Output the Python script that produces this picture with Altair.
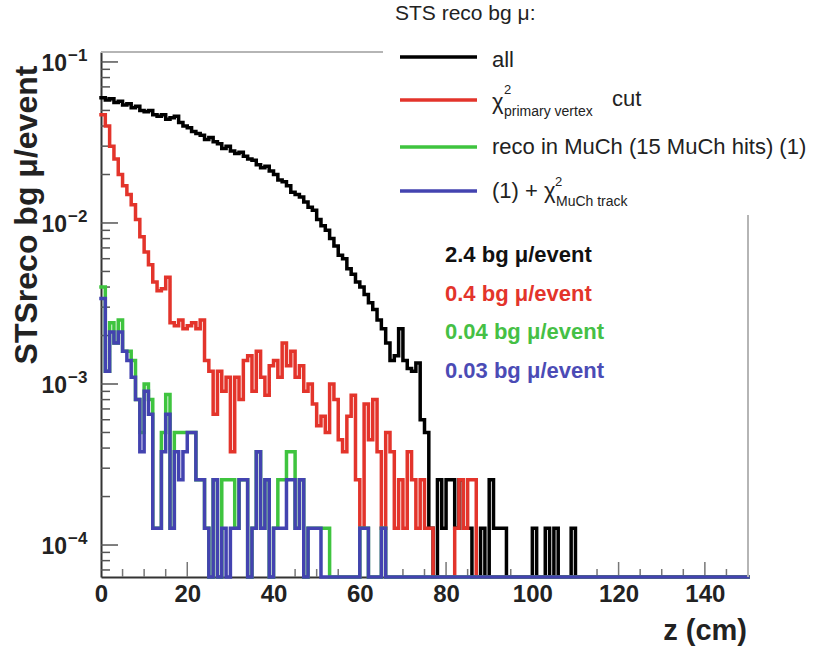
import altair as alt
import pandas as pd

# ---------------- data (bin contents, 1 cm bins from z = 0 to 150 cm) ----------------
Z_EDGES = list(range(0, 151))

all_mu = [
    0.060, 0.058, 0.059, 0.056, 0.057, 0.054, 0.055, 0.052, 0.053, 0.050,
    0.049, 0.050, 0.047, 0.046, 0.047, 0.044, 0.045, 0.046, 0.042, 0.040,
    0.039, 0.037, 0.036, 0.035, 0.033, 0.034, 0.032, 0.031, 0.029, 0.030,
    0.028, 0.027, 0.0275, 0.026, 0.025, 0.0245, 0.023, 0.022, 0.0225, 0.021,
    0.020, 0.0185, 0.018, 0.017, 0.0155, 0.015, 0.0145, 0.0135, 0.0125, 0.012,
    0.0105, 0.0096, 0.0090, 0.0080, 0.0072, 0.0063, 0.0060, 0.0052, 0.0048, 0.0043,
    0.0040, 0.0036, 0.0032, 0.0029, 0.0025, 0.0022, 0.0018, 0.0014, 0.0015, 0.0022,
    0.0014, 0.00125, 0.0012, 0.00135, 0.0006, 0.0005, 0.000127, 0.0, 0.000254, 0.000127,
    0.000254, 0.000254, 0.000127, 0.000254, 0.000127, 0.000127, 0.0, 0.0, 0.000127, 0.0,
    0.000254, 0.000127, 0.000127, 0.000127, 0.0, 0.0, 0.0, 0.0, 0.0, 0.0,
    0.000127, 0.0, 0.0, 0.000127, 0.0, 0.000127, 0.0, 0.0, 0.0, 0.000127,
    0.0, 0.0, 0.0, 0.0, 0.0, 0.0, 0.0, 0.0, 0.0, 0.0,
    0.0, 0.0, 0.0, 0.0, 0.0, 0.0, 0.0, 0.0, 0.0, 0.0,
    0.0, 0.0, 0.0, 0.0, 0.0, 0.0, 0.0, 0.0, 0.0, 0.0,
    0.0, 0.0, 0.0, 0.0, 0.0, 0.0, 0.0, 0.0, 0.0, 0.0,
]

chi2_pv = [
    0.047, 0.040, 0.030, 0.025, 0.020, 0.017, 0.015, 0.013, 0.0105, 0.0082,
    0.0066, 0.0055, 0.0043, 0.0038, 0.0039, 0.0046, 0.0024, 0.0023, 0.0025, 0.0022,
    0.0023, 0.0024, 0.0022, 0.0025, 0.0014, 0.0012, 0.00065, 0.0012, 0.0009, 0.0011,
    0.00038, 0.0011, 0.0008, 0.0014, 0.0015, 0.0009, 0.0016, 0.0011, 0.00085, 0.0013,
    0.0014, 0.0011, 0.0018, 0.0013, 0.0016, 0.0011, 0.0013, 0.0009, 0.0010, 0.00075,
    0.00055, 0.00063, 0.0005, 0.0010, 0.0008, 0.00045, 0.00038, 0.00063, 0.00085, 0.000254,
    0.000127, 0.00075, 0.00045, 0.0008, 0.00038, 0.000127, 0.0005, 0.00038, 0.000127, 0.000254,
    0.000127, 0.00038, 0.000254, 0.000127, 0.000254, 0.000127, 0.000127, 0.0, 0.0, 0.0,
    0.0, 0.0, 0.000127, 0.000254, 0.000127, 0.000254, 0.000254, 0.0, 0.0, 0.0,
    0.0, 0.0, 0.0, 0.0, 0.0, 0.0, 0.0, 0.0, 0.0, 0.0,
    0.0, 0.0, 0.0, 0.0, 0.0, 0.0, 0.0, 0.0, 0.0, 0.0,
    0.0, 0.0, 0.0, 0.0, 0.0, 0.0, 0.0, 0.0, 0.0, 0.0,
    0.0, 0.0, 0.0, 0.0, 0.0, 0.0, 0.0, 0.0, 0.0, 0.0,
    0.0, 0.0, 0.0, 0.0, 0.0, 0.0, 0.0, 0.0, 0.0, 0.0,
    0.0, 0.0, 0.0, 0.0, 0.0, 0.0, 0.0, 0.0, 0.0, 0.0,
]

much_reco = [
    0.0040, 0.0012, 0.0024, 0.0018, 0.0025, 0.0016, 0.0016, 0.0014, 0.0008, 0.0005,
    0.0010, 0.0008, 0.000127, 0.000127, 0.0005, 0.00086, 0.000127, 0.0005, 0.0005, 0.0005,
    0.0005, 0.0005, 0.000254, 0.000254, 0.000127, 0.0, 0.000254, 0.0, 0.000254, 0.000254,
    0.000254, 0.000127, 0.000254, 0.000254, 0.0, 0.000127, 0.00038, 0.000127, 0.000254, 0.0,
    0.000127, 0.000254, 0.000254, 0.00038, 0.00038, 0.000127, 0.000254, 0.0, 0.000127, 0.000127,
    0.000127, 0.000127, 0.000127, 0.0, 0.0, 0.0, 0.0, 0.0, 0.0, 0.0,
    0.000127, 0.000127, 0.0, 0.0, 0.0, 0.000127, 0.0, 0.0, 0.0, 0.0,
    0.0, 0.0, 0.0, 0.0, 0.0, 0.0, 0.0, 0.0, 0.0, 0.0,
    0.0, 0.0, 0.0, 0.0, 0.0, 0.0, 0.0, 0.0, 0.0, 0.0,
    0.0, 0.0, 0.0, 0.0, 0.0, 0.0, 0.0, 0.0, 0.0, 0.0,
    0.0, 0.0, 0.0, 0.0, 0.0, 0.0, 0.0, 0.0, 0.0, 0.0,
    0.0, 0.0, 0.0, 0.0, 0.0, 0.0, 0.0, 0.0, 0.0, 0.0,
    0.0, 0.0, 0.0, 0.0, 0.0, 0.0, 0.0, 0.0, 0.0, 0.0,
    0.0, 0.0, 0.0, 0.0, 0.0, 0.0, 0.0, 0.0, 0.0, 0.0,
    0.0, 0.0, 0.0, 0.0, 0.0, 0.0, 0.0, 0.0, 0.0, 0.0,
]

much_chi2 = [
    0.0034, 0.0012, 0.0021, 0.0018, 0.0021, 0.0016, 0.0014, 0.0011, 0.0008, 0.00038,
    0.0009, 0.00065, 0.000127, 0.000127, 0.00038, 0.00065, 0.000127, 0.00038, 0.000254, 0.00038,
    0.0005, 0.0005, 0.000254, 0.000254, 0.000127, 0.0, 0.000254, 0.0, 0.000127, 0.0,
    0.000127, 0.000127, 0.000254, 0.000254, 0.0, 0.000127, 0.00038, 0.000127, 0.000254, 0.0,
    0.000127, 0.000127, 0.000127, 0.000254, 0.000254, 0.000127, 0.000254, 0.0, 0.000127, 0.000127,
    0.000127, 0.0, 0.0, 0.0, 0.0, 0.0, 0.0, 0.0, 0.0, 0.0,
    0.000127, 0.000127, 0.0, 0.0, 0.0, 0.000127, 0.0, 0.0, 0.0, 0.0,
    0.0, 0.0, 0.0, 0.0, 0.0, 0.0, 0.0, 0.0, 0.0, 0.0,
    0.0, 0.0, 0.0, 0.0, 0.0, 0.0, 0.0, 0.0, 0.0, 0.0,
    0.0, 0.0, 0.0, 0.0, 0.0, 0.0, 0.0, 0.0, 0.0, 0.0,
    0.0, 0.0, 0.0, 0.0, 0.0, 0.0, 0.0, 0.0, 0.0, 0.0,
    0.0, 0.0, 0.0, 0.0, 0.0, 0.0, 0.0, 0.0, 0.0, 0.0,
    0.0, 0.0, 0.0, 0.0, 0.0, 0.0, 0.0, 0.0, 0.0, 0.0,
    0.0, 0.0, 0.0, 0.0, 0.0, 0.0, 0.0, 0.0, 0.0, 0.0,
    0.0, 0.0, 0.0, 0.0, 0.0, 0.0, 0.0, 0.0, 0.0, 0.0,
]

SERIES_COLORS = ["#000000", "#e3342b", "#3fc43f", "#4343b0"]
TEXT_COLORS = ["#111111", "#e3342b", "#45c045", "#4b4bb5"]
RATES = ["2.4 bg \u03bc/event", "0.4 bg \u03bc/event", "0.04 bg \u03bc/event", "0.03 bg \u03bc/event"]

X_LABELS = [0, 20, 40, 60, 80, 100, 120, 140]
Y_DECADES = [1e-1, 1e-2, 1e-3, 1e-4]
Y_EXPONENTS = ["\u22121", "\u22122", "\u22123", "\u22124"]

# ---------------- layout ----------------
W, H = 647, 525
Y_MIN, Y_MAX = 6.33e-5, 0.1153
FONT = "Liberation Sans"

xscale = alt.Scale(domain=[0, 150], nice=False, zero=False)
yscale = alt.Scale(type="log", domain=[Y_MIN, Y_MAX], nice=False)

xaxis = alt.Axis(values=X_LABELS, ticks=False, grid=False, domain=True, domainColor="#333333",
                 domainWidth=2, labelFont=FONT, labelFontSize=24, labelFontWeight="bold",
                 labelColor="#222222", labelPadding=5, labelFlush=False, labelOverlap=False,
                 title=None, format="d")
yaxis = alt.Axis(labels=False, ticks=False, grid=False, domain=True, domainColor="#333333",
                 domainWidth=2, title=None)


def hist_frame(vals):
    rows = []
    for i, v in enumerate(vals):
        rows.append({"z": Z_EDGES[i], "v": v if v > 0 else Y_MIN})
    rows.append({"z": Z_EDGES[len(vals)], "v": rows[-1]["v"]})
    return pd.DataFrame(rows)


def hist_layer(vals, color):
    return alt.Chart(hist_frame(vals)).mark_line(
        interpolate="step-after", color=color, strokeWidth=3.5, strokeJoin="miter", strokeCap="square"
    ).encode(
        x=alt.X("z:Q", scale=xscale, axis=xaxis),
        y=alt.Y("v:Q", scale=yscale, axis=yaxis),
    )


ONE = alt.Data(values=[{"a": 1}])


def label(txt, x, y, size, color="#000000", weight="normal", align="left", baseline="middle", angle=0):
    return alt.Chart(ONE).mark_text(
        font=FONT, fontSize=size, fontWeight=weight, color=color, align=align,
        baseline=baseline, angle=angle
    ).encode(x=alt.value(x), y=alt.value(y), text=alt.value(txt))


def hline(x1, x2, y, color, width):
    return alt.Chart(ONE).mark_rule(color=color, strokeWidth=width).encode(
        x=alt.value(x1), x2=alt.value(x2), y=alt.value(y))


def vline(x, y1, y2, color, width):
    return alt.Chart(ONE).mark_rule(color=color, strokeWidth=width).encode(
        x=alt.value(x), y=alt.value(y1), y2=alt.value(y2))


# inner ticks (ROOT style)
y_major = Y_DECADES
y_minor = [m * d for d in [1e-5, 1e-4, 1e-3, 1e-2] for m in range(2, 10) if Y_MIN <= m * d <= Y_MAX]
x_major = [t for t in range(20, 150, 20)]
x_minor = [t for t in range(5, 150, 5) if t % 20 != 0]

ytick_major = alt.Chart(pd.DataFrame({"t": y_major})).mark_rule(color="#555555", strokeWidth=1.5).encode(
    y=alt.Y("t:Q", scale=yscale, axis=yaxis), x=alt.value(0), x2=alt.value(17))
ytick_minor = alt.Chart(pd.DataFrame({"t": y_minor})).mark_rule(color="#555555", strokeWidth=1.5).encode(
    y=alt.Y("t:Q", scale=yscale, axis=yaxis), x=alt.value(0), x2=alt.value(9))
xtick_major = alt.Chart(pd.DataFrame({"t": x_major})).mark_rule(color="#777777", strokeWidth=1.5).encode(
    x=alt.X("t:Q", scale=xscale, axis=xaxis), y=alt.value(H), y2=alt.value(H - 15))
xtick_minor = alt.Chart(pd.DataFrame({"t": x_minor})).mark_rule(color="#777777", strokeWidth=1.5).encode(
    x=alt.X("t:Q", scale=xscale, axis=xaxis), y=alt.value(H), y2=alt.value(H - 8))

# y tick labels "10^n"
ylab_df = pd.DataFrame({"t": Y_DECADES, "e": Y_EXPONENTS})
ylab_base = alt.Chart(ylab_df).mark_text(
    font=FONT, fontSize=23, fontWeight="bold", color="#222222", align="right", baseline="middle", dy=2
).encode(y=alt.Y("t:Q", scale=yscale, axis=yaxis), x=alt.value(-34), text=alt.value("10"))
ylab_exp = alt.Chart(ylab_df).mark_text(
    font=FONT, fontSize=17, fontWeight="bold", color="#222222", align="left", baseline="middle", dy=-6
).encode(y=alt.Y("t:Q", scale=yscale, axis=yaxis), x=alt.value(-33), text="e:N")

# frame (top and right, light gray, partly hidden by the legend)
frame = [hline(0, 282, 0, "#b5b5b5", 2), vline(W, 163, H, "#b5b5b5", 2)]

# legend
LX1, LX2, LT = 299, 376, 391
legend = [
    label("STS reco bg \u03bc:", 294, -38, 21, "#222222"),
    hline(LX1, LX2, 5, SERIES_COLORS[0], 3.5),
    hline(LX1, LX2, 48, SERIES_COLORS[1], 3.5),
    hline(LX1, LX2, 95, SERIES_COLORS[2], 3.5),
    hline(LX1, LX2, 139, SERIES_COLORS[3], 3.5),
    label("all", LT, 8, 22, "#222222"),
    label("\u03c7", LT, 50, 22, "#222222"),
    label("2", LT + 12, 38, 13, "#222222"),
    label("primary vertex", LT + 12, 60, 14, "#222222"),
    label("cut", LT + 120, 47, 22, "#222222"),
    label("reco in MuCh (15 MuCh hits) (1)", LT, 95, 22, "#222222"),
    label("(1) + \u03c7", LT, 139, 22, "#222222"),
    label("2", LT + 63, 130, 13, "#222222"),
    label("MuCh track", LT + 64, 150, 14, "#222222"),
]

rates = [label(RATES[i], 344, 203 + 38.5 * i, 22, TEXT_COLORS[i], "bold") for i in range(4)]

titles = [
    label("STSreco bg \u03bc/event", -74, 163, 32, "#222222", "bold", "center", "middle", 270),
    label("z (cm)", 646, 588, 29, "#222222", "bold", "right", "alphabetic"),
]

layers = [
    ytick_minor, ytick_major, xtick_minor, xtick_major,
    hist_layer(all_mu, SERIES_COLORS[0]),
    hist_layer(chi2_pv, SERIES_COLORS[1]),
    hist_layer(much_reco, SERIES_COLORS[2]),
    hist_layer(much_chi2, SERIES_COLORS[3]),
    ylab_base, ylab_exp,
] + frame + legend + rates + titles

chart = alt.layer(*layers).properties(
    width=W, height=H, autosize="none",
    padding={"left": 101, "top": 52, "right": 79, "bottom": 78},
    background="white",
).configure_view(stroke=None)

chart.save("out.html", embed_options={"renderer": "svg", "actions": False})
